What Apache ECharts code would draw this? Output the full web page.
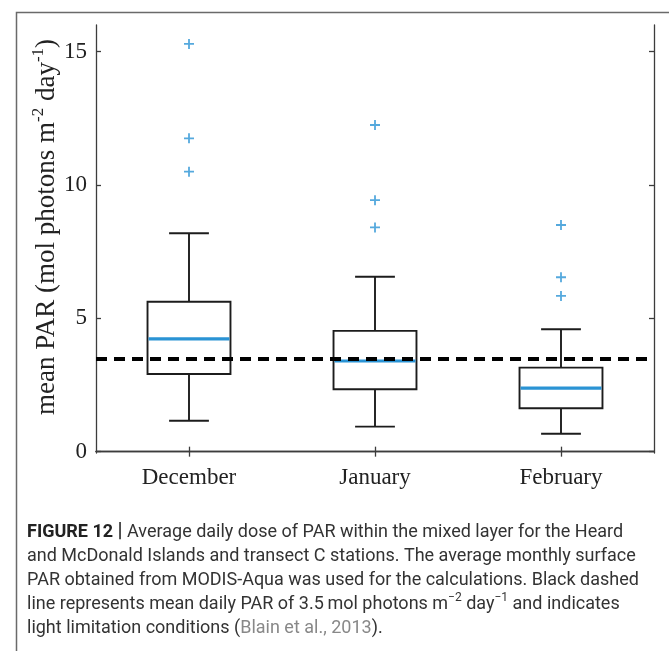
<!DOCTYPE html>
<html>
<head>
<meta charset="utf-8">
<script src="https://cdn.jsdelivr.net/npm/echarts@6/dist/echarts.min.js"></script>
<style>
html,body{margin:0;padding:0;background:#fff;}
#chart{width:669px;height:651px;}
</style>
</head>
<body>
<div id="chart"></div>
<script>
// ---- data ----
const categories = ['December', 'January', 'February'];
const lowerWhisker = [1.16, 0.94, 0.67];
const q1 = [2.91, 2.34, 1.63];
const median = [4.23, 3.40, 2.38];
const q3 = [5.62, 4.53, 3.15];
const upperWhisker = [8.19, 6.56, 4.59];
const outliers = [
  [15.29, 11.75, 10.50],
  [12.25, 9.43, 8.41],
  [8.50, 6.54, 5.84]
];
const thresholdPAR = 3.5;
const yTicks = [0, 5, 10, 15];
const yMin = -0.05;
const yMax = 16;

const captionLines = [
  '{b|FIGURE 12} {bar||} Average daily dose of PAR within the mixed layer for the Heard',
  'and McDonald Islands and transect C stations. The average monthly surface',
  'PAR obtained from MODIS-Aqua was used for the calculations. Black dashed',
  'line represents mean daily PAR of 3.5\u2009mol photons m{s|\u22122} day{s|\u22121} and indicates',
  'light limitation conditions ({g|Blain et al., 2013}).'
];

// ---- build ----
const boxData = categories.map((c, i) => [i, lowerWhisker[i], q1[i], median[i], q3[i], upperWhisker[i]]);
const outlierData = [];
outliers.forEach((arr, i) => arr.forEach(v => outlierData.push([i, v])));

const BLUE = '#2a93d4';
const BOXC = '#1c1c1c';
const AXC = '#3c3c3c';
const serif = '"Liberation Serif", "DejaVu Serif", serif';
const sans = 'Roboto, "Liberation Sans", sans-serif';
const CAP = 18;

const chart = echarts.init(document.getElementById('chart'), null, {renderer: 'canvas'});

const option = {
  animation: false,
  backgroundColor: '#fff',
  grid: {left: 96, right: 15, top: 25, bottom: 198, containLabel: false},
  xAxis: [
    {
      type: 'category', data: categories, position: 'bottom', boundaryGap: true,
      axisLine: {show: true, lineStyle: {color: AXC, width: 1.3}},
      axisTick: {show: true, inside: true, alignWithLabel: true, length: 5, lineStyle: {color: AXC, width: 1.3}},
      axisLabel: {show: true, color: '#222', fontFamily: serif, fontSize: 23, margin: 13},
      splitLine: {show: false}
    },
    {
      type: 'category', data: categories, position: 'top', boundaryGap: true,
      axisLine: {show: true, lineStyle: {color: AXC, width: 1.3}},
      axisTick: {show: true, inside: true, alignWithLabel: true, length: 5, lineStyle: {color: AXC, width: 1.3}},
      axisLabel: {show: false},
      splitLine: {show: false}
    }
  ],
  yAxis: [
    {
      type: 'value', position: 'left', min: yMin, max: yMax,
      axisLine: {show: true, lineStyle: {color: AXC, width: 1.3}},
      axisTick: {show: true, inside: true, length: 5, customValues: yTicks, lineStyle: {color: AXC, width: 1.3}},
      axisLabel: {show: true, customValues: yTicks, color: '#222', fontFamily: serif, fontSize: 23, margin: 9},
      splitLine: {show: false}
    },
    {
      type: 'value', position: 'right', min: yMin, max: yMax,
      axisLine: {show: true, lineStyle: {color: AXC, width: 1.3}},
      axisTick: {show: true, inside: true, length: 5, customValues: yTicks, lineStyle: {color: AXC, width: 1.3}},
      axisLabel: {show: false},
      splitLine: {show: false}
    }
  ],
  series: [
    {
      type: 'custom',
      xAxisIndex: 0, yAxisIndex: 0,
      z: 2,
      encode: {x: 0, y: [1, 2, 3, 4, 5]},
      data: boxData,
      renderItem: function (params, api) {
        const x = api.value(0);
        const pLo = api.coord([x, api.value(1)]);
        const pQ1 = api.coord([x, api.value(2)]);
        const pMed = api.coord([x, api.value(3)]);
        const pQ3 = api.coord([x, api.value(4)]);
        const pHi = api.coord([x, api.value(5)]);
        const band = api.size([1, 0])[0];
        const half = band * 0.223;
        const capHalf = band * 0.107;
        const cx = pMed[0];
        const ls = {stroke: BOXC, lineWidth: 1.9, fill: null};
        return {
          type: 'group',
          children: [
            {type: 'line', shape: {x1: cx, y1: pQ3[1], x2: cx, y2: pHi[1]}, style: ls},
            {type: 'line', shape: {x1: cx, y1: pQ1[1], x2: cx, y2: pLo[1]}, style: ls},
            {type: 'line', shape: {x1: cx - capHalf, y1: pHi[1], x2: cx + capHalf, y2: pHi[1]}, style: ls},
            {type: 'line', shape: {x1: cx - capHalf, y1: pLo[1], x2: cx + capHalf, y2: pLo[1]}, style: ls},
            {type: 'rect', shape: {x: cx - half, y: pQ3[1], width: half * 2, height: pQ1[1] - pQ3[1]}, style: {stroke: BOXC, lineWidth: 1.9, fill: 'rgba(0,0,0,0)'}},
            {type: 'line', shape: {x1: cx - half + 1, y1: pMed[1], x2: cx + half - 1, y2: pMed[1]}, style: {stroke: BLUE, lineWidth: 3.2}}
          ]
        };
      }
    },
    {
      type: 'scatter',
      xAxisIndex: 0, yAxisIndex: 0,
      z: 3,
      symbol: 'path://M4.1,0H5.9V4.1H10V5.9H5.9V10H4.1V5.9H0V4.1H4.1Z',
      symbolSize: 10,
      itemStyle: {color: BLUE},
      data: outlierData,
      markLine: {
        silent: true,
        symbol: ['none', 'none'],
        label: {show: false},
        lineStyle: {type: [11, 7], width: 3.8, color: '#000'},
        data: [{yAxis: thresholdPAR}]
      }
    }
  ],
  graphic: [
    {
      type: 'rect', left: 14, top: 10, z: -1,
      shape: {width: 653.5, height: 700},
      style: {fill: 'none', stroke: '#6a6a6a', lineWidth: 1.5}
    },
    {
      type: 'text', x: 47, y: 227, rotation: Math.PI / 2,
      style: {
        text: '{n|mean PAR (mol photons m}{s|-2}{n| day}{s|-1}{n|)}',
        align: 'center', verticalAlign: 'middle',
        fill: '#222',
        rich: {
          n: {fontFamily: serif, fontSize: 27, lineHeight: 33, fill: '#222', verticalAlign: 'middle'},
          s: {fontFamily: serif, fontSize: 17, lineHeight: 33, fill: '#222', verticalAlign: 'top'}
        }
      }
    }
  ].concat(captionLines.map((t, k) => ({
    type: 'text', x: 27, y: 532 + k * 24,
    style: {
      text: t, align: 'left', verticalAlign: 'middle', fill: '#333',
      rich: {
        b: {fontFamily: sans, fontSize: CAP, fontWeight: 'bold', fill: '#222', lineHeight: 24},
        bar: {fontFamily: sans, fontSize: CAP + 2, fontWeight: 'bold', fill: '#333', lineHeight: 24},
        s: {fontFamily: sans, fontSize: 12, fill: '#333', lineHeight: 24, verticalAlign: 'top'},
        g: {fontFamily: sans, fontSize: CAP, fill: '#888', lineHeight: 24}
      },
      fontFamily: sans, fontSize: CAP, lineHeight: 24
    }
  })))
};

chart.setOption(option);
</script>
</body>
</html>
